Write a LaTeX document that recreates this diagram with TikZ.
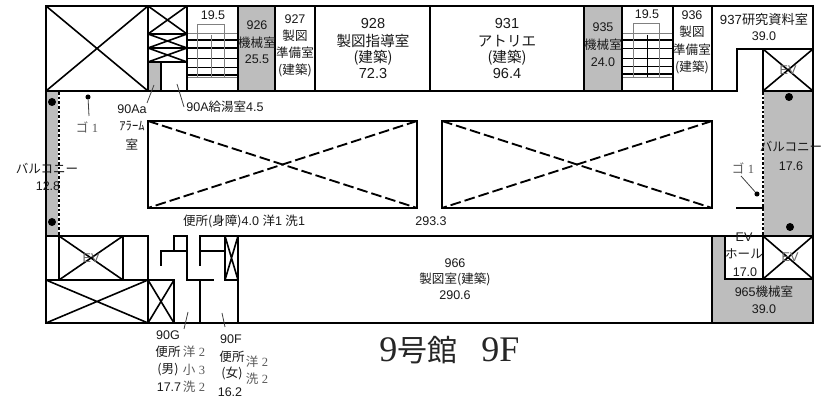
\documentclass[tikz,border=0pt]{standalone}
\usepackage{fontspec}
\setmainfont{Liberation Sans}
\newfontfamily\jp{Noto Sans CJK JP}
\newfontfamily\srf{Liberation Serif}
\newcommand{\J}[1]{{\jp #1}}
\definecolor{hatch}{gray}{0.74}
\definecolor{mutedtxt}{gray}{0.35}
\tikzset{
  wall/.style={draw=black,line width=1.5pt,line cap=rect},
  shaft/.style={draw=black,line width=1.2pt},
  lead/.style={draw=black!75,line width=0.6pt},
  grayfill/.style={fill=hatch,draw=none},
  stair gray/.style={draw=black!50,line width=0.6pt},
  stair black/.style={draw=black,line width=1.1pt},
  stair thin/.style={draw=black,line width=0.6pt},
  voiddash/.style={draw=black,line width=1.4pt,dash pattern=on 8pt off 3pt},
  lab/.style={inner sep=0pt,font=\fontsize{9.4}{11}\selectfont,text=black!90},
  big/.style={inner sep=0pt,font=\fontsize{10.9}{13}\selectfont,text=black!90},
  muted/.style={inner sep=0pt,font=\fontsize{9.4}{11}\selectfont,text=mutedtxt},
  ev/.style={inner sep=0pt,font=\fontsize{9.5}{11}\selectfont,text=black!60},
  post/.style={circle,fill=black,inner sep=0pt,minimum size=6pt},
  pin/.style={circle,fill=black,inner sep=0pt,minimum size=3.8pt},
}
\begin{document}
\begin{tikzpicture}[x=0.75pt,y=-0.75pt]
\useasboundingbox (0,0) rectangle (832,402);
% gray areas
\fill[grayfill] (238,6) rectangle (275,91);
\fill[grayfill] (584,6) rectangle (622,91);
\fill[grayfill] (148,63) rectangle (161,91);
\fill[grayfill] (46,91) rectangle (59,236);
\fill[grayfill] (763,91) rectangle (813,236);
\fill[grayfill] (712,236) rectangle (725,323);
\fill[grayfill] (712,279) rectangle (813,323);
% stairs left
\foreach \yy in {33,77} \draw[stair gray] (187,\yy) -- (238,\yy);
\foreach \yy in {40,48,75} \draw[stair black] (187,\yy) -- (238,\yy);
\foreach \yy in {58,67} \draw[stair thin] (187,\yy) -- (238,\yy);
\draw[stair gray] (197,77) -- (197,24) -- (224,24) -- (224,77);
\draw[stair gray] (211,35) -- (211,77);
% stairs right
\foreach \yy in {33,77} \draw[stair gray] (622,\yy) -- (673,\yy);
\foreach \yy in {40,74} \draw[stair black] (622,\yy) -- (673,\yy);
\foreach \yy in {48,58,66} \draw[stair thin] (622,\yy) -- (673,\yy);
\draw[stair gray] (633,77) -- (633,23) -- (659,23) -- (659,77);
\draw[stair thin] (647,35) -- (647,77);
% outer wall
\draw[wall] (46,6) -- (813,6) -- (813,323) -- (46,323) -- cycle;
% top row
\draw[wall] (46,91) -- (737,91) -- (737,49) -- (813,49);
\foreach \xx in {148,187,238,275,315,430,584,622,673,712} \draw[wall] (\xx,6) -- (\xx,91);
\draw[wall] (148,34) -- (187,34) (148,48) -- (187,48) (148,62) -- (187,62);
\draw[wall] (161,62) -- (161,91);
% shafts
\draw[shaft] (46,6) -- (148,91) (148,6) -- (46,91);
\draw[shaft] (148,6) -- (187,34) (187,6) -- (148,34);
\draw[shaft] (148,34) -- (187,48) (187,34) -- (148,48);
\draw[shaft] (148,48) -- (187,62) (187,48) -- (148,62);
\draw[shaft] (763,49) -- (813,91) (813,49) -- (763,91);
\draw[wall] (763,49) -- (763,91) -- (813,91);
% balcony edges
\draw[draw=white,line width=1.5pt] (59,92) -- (59,236) (763,92) -- (763,236);
\draw[draw=black,line width=1.5pt,dash pattern=on 2pt off 1.5pt] (59,92) -- (59,236) (763,92) -- (763,236);
% void boxes
\draw[wall] (148,121) -- (417,121) -- (417,208) -- (148,208) -- cycle;
\draw[wall] (442,121) -- (712,121) -- (712,208) -- (442,208) -- cycle;
\draw[voiddash] (148,121) -- (417,208);
\draw[voiddash] (417,121) -- (148,208);
\draw[voiddash] (442,121) -- (712,208);
\draw[voiddash] (712,121) -- (442,208);
% corridor right stub
\draw[wall] (737,208) -- (763,208);
% lower wall
\draw[wall] (46,236) -- (148,236) -- (148,323);
\draw[wall] (59,236) rectangle (123,280);
\draw[wall] (46,280) -- (174,280) -- (174,323);
\draw[shaft] (59,236) -- (123,280) (123,236) -- (59,280);
\draw[shaft] (46,280) -- (148,323) (148,280) -- (46,323);
\draw[shaft] (148,280) -- (174,323) (174,280) -- (148,323);
% toilets
\draw[wall] (161,265) -- (161,251) -- (187,251);
\draw[wall] (174,251) -- (174,236) -- (187,236) -- (187,280) -- (213,280);
\draw[wall] (200,265) -- (200,236) -- (712,236);
\draw[wall] (200,251) -- (225,251);
\draw[wall] (200,280) -- (200,323);
\draw[wall] (225,236) -- (225,280) -- (238,280);
\draw[wall] (238,236) -- (238,323);
\draw[shaft] (225,236) -- (238,280) (238,236) -- (225,280);
% right lower
\draw[wall] (712,236) -- (712,323);
\draw[wall] (725,236) -- (725,279) -- (813,279);
\draw[wall] (712,236) -- (813,236);
\draw[wall] (763,236) -- (763,279);
\draw[shaft] (763,236) -- (813,279) (813,236) -- (763,279);
% posts
\node[post] (p1) at (52,102) {};
\node[post] (p2) at (52,222) {};
\node[post] (p3) at (789,97) {};
\node[post] (p4) at (790,227) {};
\node[pin] (g1) at (88,97) {};
\node[pin] (g2) at (757,194) {};
% labels
\node[lab] (a1) at (213,15) {19.5};
\node[lab] (a2) at (647,14) {19.5};
\node[lab] at (257,25) {926};
\node[lab] at (257,43) {\J{機械室}};
\node[lab] at (257,59) {25.5};
\node[lab] at (295,19) {927};
\node[lab] at (295,36) {\J{製図}};
\node[lab] at (295,53) {\J{準備室}};
\node[lab] at (295,70) {\J{(建築)}};
\node[big] at (373,24) {928};
\node[big] at (373,41) {\J{製図指導室}};
\node[big] at (373,58) {\J{(建築)}};
\node[big] at (373,74) {72.3};
\node[big] at (507,24) {931};
\node[big] at (507,41) {\J{アトリエ}};
\node[big] at (507,58) {\J{(建築)}};
\node[big] at (507,74) {96.4};
\node[lab] at (603,27) {935};
\node[lab] at (603,45) {\J{機械室}};
\node[lab] at (603,62) {24.0};
\node[lab] at (692,15) {936};
\node[lab] at (692,32) {\J{製図}};
\node[lab] at (692,50) {\J{準備室}};
\node[lab] at (692,67) {\J{(建築)}};
\node[lab,font=\fontsize{9.9}{11}\selectfont] at (764,20) {937\J{研究資料室}};
\node[lab] at (764,36) {39.0};
\node[lab] (aa) at (132,109) {90Aa};
\node[lab] at (132,126) {\J{ｱﾗｰﾑ}};
\node[lab] at (132,145) {\J{室}};
\node[lab] (ab) at (225,107) {90A\J{給湯室}4.5};
\node[muted] (g1t) at (87,127) {\J{ゴ} \srf 1};
\node[muted] (g2t) at (743,168) {\J{ゴ} \srf 1};
\node[lab] at (47,169) {\J{バルコニー}};
\node[lab] at (48,186) {12.8};
\node[lab] at (791,147) {\J{バルコニー}};
\node[lab] at (791,166) {17.6};
\node[lab] at (244,221) {\J{便所(身障)}4.0 \J{洋}1 \J{洗}1};
\node[lab] at (431,221) {293.3};
\node[lab] at (455,263) {966};
\node[lab] at (455,279) {\J{製図室(建築)}};
\node[lab] at (455,295) {290.6};
\node[ev] at (91,258) {EV};
\node[ev] at (790,257) {EV};
\node[ev] at (788,70) {EV};
\node[lab] at (744,237) {EV};
\node[lab] at (744,254) {\J{ホール}};
\node[lab] at (745,272) {17.0};
\node[lab] at (764,292) {965\J{機械室}};
\node[lab] at (764,309) {39.0};
\node[lab] (g) at (168,335) {90G};
\node[lab] at (168,352) {\J{便所}};
\node[lab] at (168,370) {\J{(男)}};
\node[lab] at (169,387) {17.7};
\node[muted] at (194,352) {\J{洋} \srf 2};
\node[muted] at (194,370) {\J{小} \srf 3};
\node[muted] at (194,387) {\J{洗} \srf 2};
\node[lab] (f) at (231,339) {90F};
\node[lab] at (232,357) {\J{便所}};
\node[lab] at (232,373) {\J{(女)}};
\node[lab] at (230,392) {16.2};
\node[muted] at (257,362) {\J{洋} \srf 2};
\node[muted] at (257,379) {\J{洗} \srf 2};
\node[inner sep=0pt,anchor=base,font=\fontsize{27}{30}\selectfont,text=black!85] at (449.5,362) {\srf 9{\fontsize{22.5}{30}\selectfont\jp 号館}\hspace{18pt}9F};
% leaders
\coordinate (l1) at (154,85); \coordinate (l1e) at (147,103);
\coordinate (l2) at (177,84); \coordinate (l2e) at (184,107);
\coordinate (l3) at (188,312); \coordinate (l3e) at (184,329);
\coordinate (l4) at (222,313); \coordinate (l4e) at (225,327);
\coordinate (l5) at (89,116); \coordinate (l6) at (741,176);
\draw[lead] (l1) -- (l1e);
\draw[lead] (l2) -- (l2e);
\draw[lead] (l3) -- (l3e);
\draw[lead] (l4) -- (l4e);
\draw[lead] (g1) -- (l5);
\draw[lead] (g2) -- (l6);
\end{tikzpicture}
\end{document}
